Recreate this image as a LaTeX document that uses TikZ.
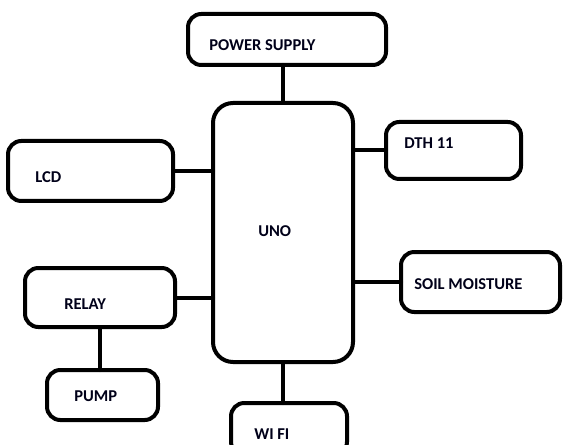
\documentclass[tikz,border=0pt]{standalone}
\usepackage{fontspec}
\setmainfont{Carlito}
\begin{document}
\begin{tikzpicture}[x=0.75pt,y=-0.75pt,
  blk/.style={draw=black,line width=3pt,rounded corners=10pt,inner sep=0pt,outer sep=0pt,fill=white},
  lbl/.style={anchor=west,inner sep=0pt,font=\fontsize{12.4}{14}\selectfont\bfseries,text=black!90!blue},
  wire/.style={line width=3pt,line cap=round}]
\useasboundingbox (0,0) rectangle (563,445);
\clip (0,0) rectangle (563,445);
\node[blk,minimum width=148.5pt,minimum height=38.25pt] (ps) at (287,39.5) {};
\node[blk,rounded corners=15pt,minimum width=105pt,minimum height=194.25pt] (uno) at (283,232.5) {};
\node[blk,minimum width=123.75pt,minimum height=45pt] (lcd) at (90.5,171) {};
\node[blk,minimum width=112.5pt,minimum height=44.25pt] (relay) at (100,297.5) {};
\node[blk,minimum width=101.25pt,minimum height=42.75pt] (dth) at (453.5,150.5) {};
\node[blk,minimum width=119.25pt,minimum height=45pt] (soil) at (480.5,282) {};
\node[blk,minimum width=83.25pt,minimum height=37.5pt] (pump) at (102.5,395) {};
\node[blk,minimum width=87pt,minimum height=39pt] (wifi) at (289,429) {};
\node[lbl] (tps) at (209,45) {POWER SUPPLY};
\node[lbl] (tuno) at (258,231) {UNO};
\node[lbl] (tlcd) at (35,177) {LCD};
\node[lbl] (trelay) at (64,304) {RELAY};
\node[lbl] (tdth) at (404,143) {DTH 11};
\node[lbl] (tsoil) at (414,284) {SOIL MOISTURE};
\node[lbl] (tpump) at (74,396) {PUMP};
\node[lbl] (twifi) at (254,434) {WI FI};
\draw[wire] (uno.north) -- (uno.north |- ps.south);
\draw[wire] (lcd.east) -- (lcd.east -| uno.west);
\draw[wire] (relay.east) -- (relay.east -| uno.west);
\draw[wire] (dth.west) -- (dth.west -| uno.east);
\draw[wire] (soil.west) -- (soil.west -| uno.east);
\draw[wire] (relay.south) -- (relay.south |- pump.north);
\draw[wire] (uno.south) -- (uno.south |- wifi.north);
\end{tikzpicture}
\end{document}
